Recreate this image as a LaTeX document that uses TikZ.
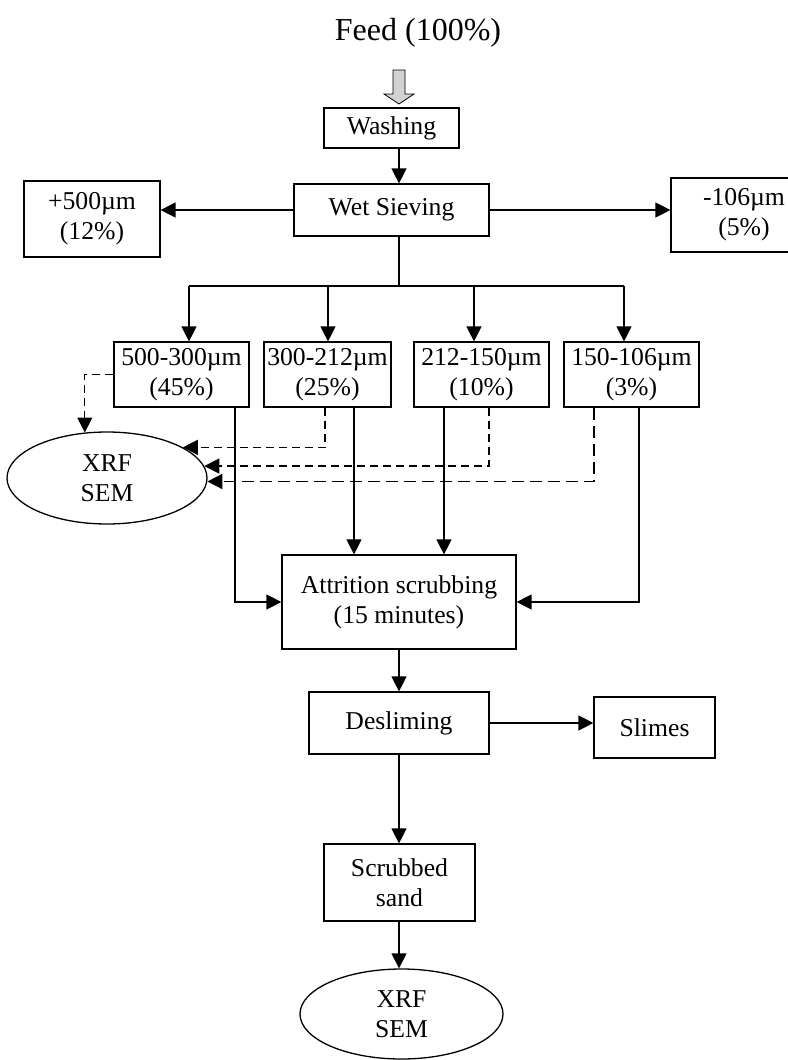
\documentclass[tikz,border=0pt]{standalone}
\usepackage{fontspec}
\setmainfont{Liberation Serif}
\usetikzlibrary{arrows.meta,positioning,calc,shapes.geometric}

\tikzset{
  procbox/.style={draw, line width=1.2pt, align=center, inner sep=0pt,
    font=\fontsize{25.7}{30}\selectfont},
  testell/.style={draw, ellipse, line width=1.3pt, align=center, inner sep=0pt,
    minimum width=200pt, minimum height=92pt, font=\fontsize{25.7}{30}\selectfont},
  link/.style={line width=1.3pt},
  flow/.style={link, -{Triangle[length=15pt,width=15pt]}},
  sample/.style={flow, dash pattern=on 8pt off 5pt},
  bigsample/.style={flow, line width=1.7pt, dash pattern=on 12pt off 6pt}
}

\begin{document}
\begin{tikzpicture}[x=1pt,y=-1pt]
  \useasboundingbox (0,0) rectangle (787,1060);
  \fill[white] (0,0) rectangle (787,1060);

  % feed and first steps
  \node[font=\fontsize{32}{36}\selectfont] (feed) at (418,33) {Feed (100\%)};
  \draw[fill=gray!35, line width=0.8pt] (393,70) -- (405,70) -- (405,94) -- (414,94)
    -- (399,104) -- (384,94) -- (393,94) -- cycle;
  \node[procbox, minimum width=135pt, minimum height=40pt] (wash) at (391.5,128) {Washing};
  \node[procbox, minimum width=195pt, minimum height=52pt] (sieve) at (391.5,210) {Wet Sieving};
  \node[procbox, minimum width=136pt, minimum height=76pt] (coarse) at (92,219) {+500µm\\(12\%)};
  \node[procbox, minimum width=146pt, minimum height=74pt] (fines) at (744,215) {-106µm\\(5\%)};

  % size fractions
  \node[procbox, minimum width=135pt, minimum height=65pt] (frA) at (181.5,374.5) {500-300µm\\(45\%)};
  \node[procbox, minimum width=127pt, minimum height=65pt] (frB) at (327.5,374.5) {300-212µm\\(25\%)};
  \node[procbox, minimum width=135pt, minimum height=65pt] (frC) at (481.5,374.5) {212-150µm\\(10\%)};
  \node[procbox, minimum width=135pt, minimum height=65pt] (frD) at (631.5,374.5) {150-106µm\\(3\%)};
  \node[testell] (xrfA) at (107,478) {XRF\\SEM};

  % scrubbing and after
  \node[procbox, minimum width=234pt, minimum height=94pt] (attr) at (399,602) {Attrition scrubbing\\(15 minutes)};
  \node[procbox, minimum width=180pt, minimum height=62pt] (deslime) at (399,723) {Desliming};
  \node[procbox, minimum width=121pt, minimum height=61pt] (slimes) at (654.5,727.5) {Slimes};
  \node[procbox, minimum width=151pt, minimum height=77pt] (sand) at (399.5,882.5) {Scrubbed\\sand};
  \node[testell, minimum width=203pt, minimum height=90pt] (xrfB) at (401.5,1014) {XRF\\SEM};

  % helper coordinates
  \coordinate (xmain) at (399,0);
  \coordinate (bus) at (399,286);
  \coordinate (dA) at (189,286);
  \coordinate (dB) at (328,286);
  \coordinate (dC) at (474,286);
  \coordinate (dD) at (624,286);
  \coordinate (sA) at (235,0);
  \coordinate (sB) at (354,0);
  \coordinate (sC) at (444,0);
  \coordinate (sD) at (639,0);
  \coordinate (qB) at (325,0);
  \coordinate (qC) at (489,0);
  \coordinate (qD) at (594,0);

  % connectors
  \draw[flow] (wash.south -| xmain) -- (sieve.north -| xmain);
  \draw[flow] (sieve.west) -- (sieve.west -| coarse.east);
  \draw[flow] (sieve.east) -- (sieve.east -| fines.west);
  \draw[link] (sieve.south -| xmain) -- (bus);
  \draw[link] (dA) -- (dD);
  \foreach \d/\f in {dA/frA, dB/frB, dC/frC, dD/frD}
    \draw[flow] (\d) -- (\d |- \f.north);

  \draw[flow] (frA.south -| sA) |- (attr.west);
  \draw[flow] (frB.south -| sB) -- (attr.north -| sB);
  \draw[flow] (frC.south -| sC) -- (attr.north -| sC);
  \draw[flow] (frD.south -| sD) |- (attr.east);

  \draw[sample] (frA.west) -| (xrfA.116);
  \draw[sample] (frB.south -| qB) |- (xrfA.22);
  \draw[sample] (frC.south -| qC) |- (xrfA.7);
  \draw[bigsample] (frD.south -| qD) |- (xrfA.-2);

  \draw[flow] (attr.south) -- (deslime.north);
  \draw[flow] (deslime.east) -- (deslime.east -| slimes.west);
  \draw[flow] (deslime.south) -- (sand.north -| deslime.south);
  \draw[flow] (sand.south -| xmain) -- (xrfB.north -| xmain);
\end{tikzpicture}
\end{document}
